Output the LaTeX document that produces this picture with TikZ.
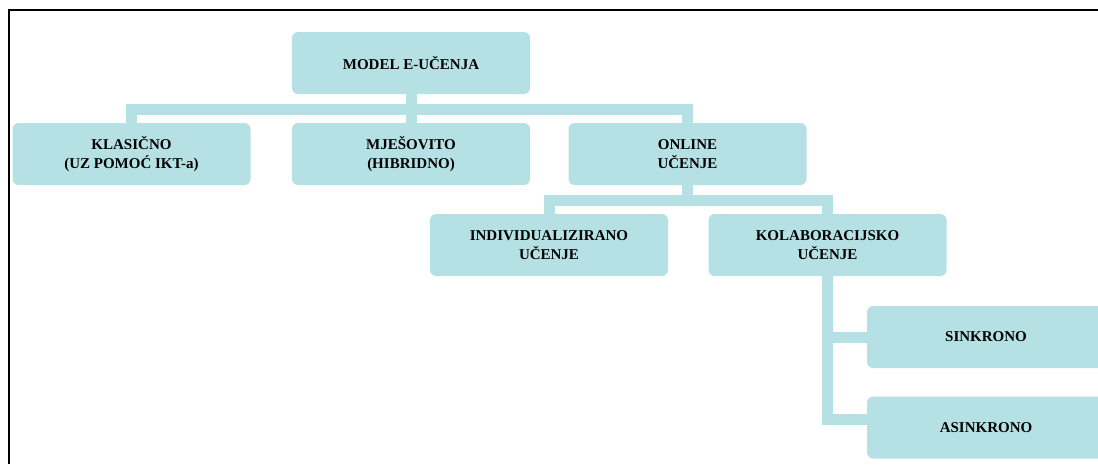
\documentclass[tikz,border=0pt]{standalone}
\usepackage{fontspec}
\setmainfont{Liberation Serif}
\usepackage{xcolor}
\usepackage{tikz}

\definecolor{boxteal}{RGB}{182,225,228}
\tikzset{
	box/.style={fill=boxteal, rounded corners=6pt, minimum width=238pt, minimum height=62pt,
		align=center, inner sep=0pt, font=\fontsize{15}{19}\selectfont\bfseries},
	conn/.style={draw=boxteal, line width=11pt, line join=miter},
	frame/.style={draw=black, line width=2pt}
}

\begin{document}
\begin{tikzpicture}[x=1pt,y=-1pt]
	\useasboundingbox (0,0) rectangle (1098,464);
	\draw[frame] (1098,10) -- (9,10) -- (9,464);
	\node[box] (model) at (411,63) {MODEL E-UČENJA};
	\node[box] (klas) at (131.5,154) {KLASIČNO\\(UZ POMOĆ IKT-a)};
	\node[box] (mjes) at (411,154) {MJEŠOVITO\\(HIBRIDNO)};
	\node[box] (online) at (687.5,154) {ONLINE\\UČENJE};
	\node[box] (indiv) at (549,245) {INDIVIDUALIZIRANO\\UČENJE};
	\node[box] (kolab) at (827.5,245) {KOLABORACIJSKO\\UČENJE};
	\node[box] (sink) at (986,337) {SINKRONO};
	\node[box] (asink) at (986,427.5) {ASINKRONO};
	% connectors of the tree
	\foreach \n in {klas,mjes,online}{
		\draw[conn] (model.south) -- ++(0,15) -| (\n.north);
	}
	\foreach \n in {indiv,kolab}{
		\draw[conn] (online.south) -- ++(0,15) -| (\n.north);
	}
	\draw[conn] (kolab.south) |- (sink.west);
	\draw[conn] (kolab.south) |- ([yshift=8pt]asink.west);
\end{tikzpicture}
\end{document}
